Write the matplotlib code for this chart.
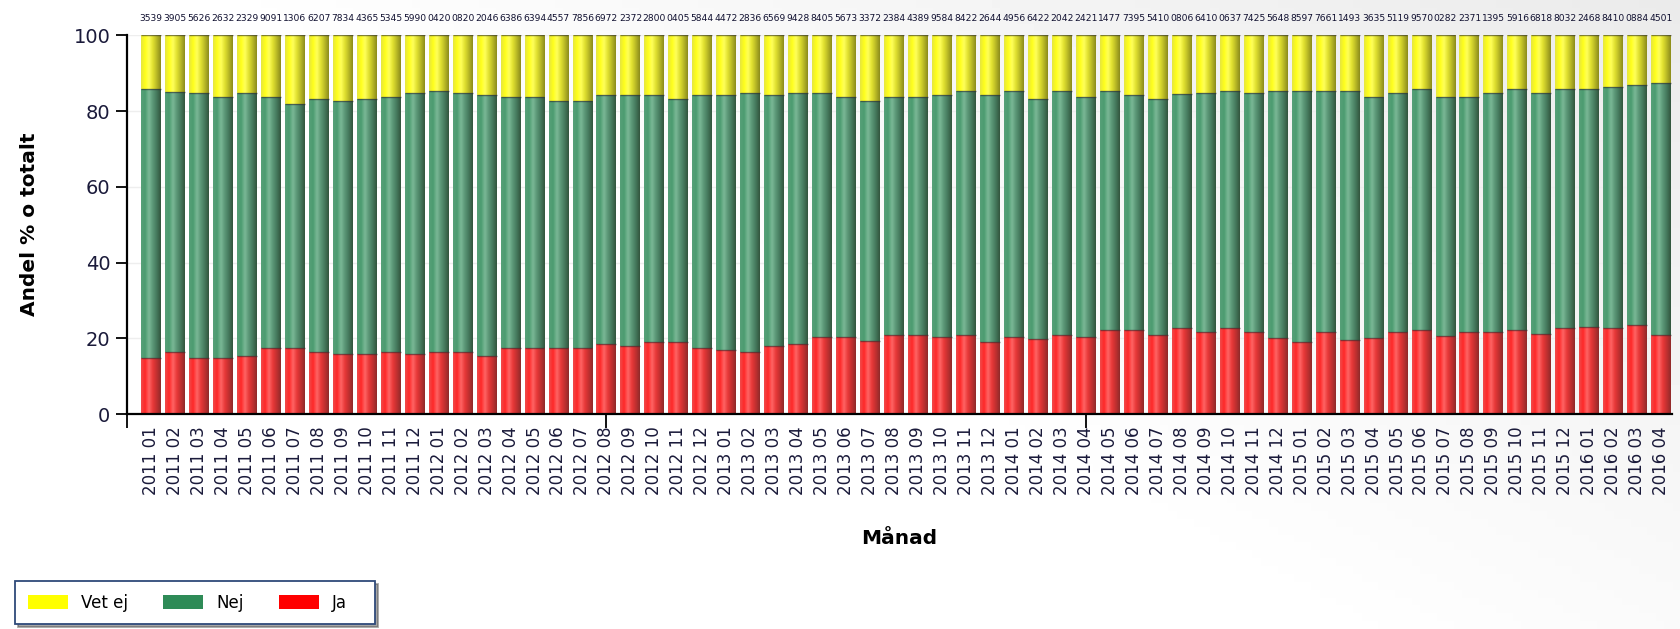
import numpy as np
import matplotlib
matplotlib.use("Agg")
import matplotlib.pyplot as plt
from matplotlib.colors import LinearSegmentedColormap
from matplotlib.patches import Patch

# ─── Data ────────────────────────────────────────────────────────
months = [f"{y} {m:02d}" for y in range(2011, 2017) for m in range(1, 13)][:64]

ja = [14.9, 16.4, 14.9, 14.9, 15.4, 17.4, 17.4, 16.4, 15.9, 15.9, 16.4, 15.9,
      16.4, 16.4, 15.4, 17.4, 17.4, 17.4, 17.4, 18.4, 17.9, 18.9, 18.9, 17.4,
      16.9, 16.4, 17.9, 18.4, 20.4, 20.4, 19.3, 20.9, 20.9, 20.4, 20.9, 18.9,
      20.4, 19.9, 20.9, 20.4, 22.3, 22.3, 20.8, 22.6, 21.6, 22.6, 21.6, 20.0,
      19.0, 21.6, 19.5, 20.0, 21.6, 22.1, 20.6, 21.6, 21.6, 22.1, 21.0, 22.6,
      23.1, 22.6, 23.6, 20.8]
nej = [70.9, 68.7, 69.8, 68.8, 69.3, 66.3, 64.4, 66.8, 66.8, 67.3, 67.3, 68.8,
       68.8, 68.3, 68.8, 66.3, 66.3, 65.3, 65.3, 65.8, 66.3, 65.3, 64.3, 66.8,
       67.3, 68.3, 66.3, 66.3, 64.3, 63.3, 63.4, 62.8, 62.8, 63.8, 64.3, 65.3,
       64.8, 63.3, 64.3, 63.3, 62.9, 61.9, 62.5, 61.8, 63.3, 62.8, 63.3, 65.4,
       66.4, 63.8, 65.9, 63.8, 63.3, 63.7, 63.2, 62.2, 63.3, 63.7, 63.9, 63.2,
       62.7, 63.9, 63.3, 66.6]
vet_ej = [100 - a - b for a, b in zip(ja, nej)]

# totals printed above the bars (they overlap in the original, partly guessed)
totals = ["3539", "3905", "5626", "2632", "2329", "9091", "1306", "6207",
          "7834", "4365", "5345", "5990", "0420", "0820", "2046", "6386",
          "6394", "4557", "7856", "6972", "2372", "2800", "0405", "5844",
          "4472", "2836", "6569", "9428", "8405", "5673", "3372", "2384",
          "4389", "9584", "8422", "2644", "4956", "6422", "2042", "2421",
          "1477", "7395", "5410", "0806", "6410", "0637", "7425", "5648",
          "8597", "7661", "1493", "3635", "5119", "9570", "0282", "2371",
          "1395", "5916", "6818", "8032", "2468", "8410", "0884", "4501"]

# ─── Figure ───────────────────────────────────────────────────────
W, H = 1681, 629
fig = plt.figure(figsize=(W / 100, H / 100), dpi=100)
fig.patch.set_facecolor("white")

# faint grey shading in the lower right of the background
bg = fig.add_axes([0, 0, 1, 1], zorder=-10)
gx, gy = np.meshgrid(np.linspace(0, 1, 200), np.linspace(0, 1, 80))
shade = np.clip((gx * 0.9 + (1 - gy) * 0.6 - 0.7), 0, 1) * 0.10
bg.imshow(1 - shade, cmap="gray", vmin=0, vmax=1, aspect="auto",
          extent=[0, 1, 0, 1], origin="upper")
bg.axis("off")

ax = fig.add_axes([127 / W, 1 - 414 / H, (1672 - 127) / W, (414 - 35.4) / H])
ax.set_facecolor("none")
x = np.arange(len(months))
width = 0.83

cm_ja = LinearSegmentedColormap.from_list(
    "ja", ["#f04a4a", "#ff2828", "#ff6464", "#e83838", "#c03030", "#902a2a"])
cm_nej = LinearSegmentedColormap.from_list(
    "nej", ["#56a078", "#4c9c70", "#7ab896", "#5a9676", "#44785c", "#33553d"])
cm_vet = LinearSegmentedColormap.from_list(
    "vet", ["#e6e640", "#ffff1a", "#ffff5a", "#e0e030", "#b8b826", "#8c8c1c"])

grad = np.linspace(0, 1, 64).reshape(1, -1)


def shade_bars(bars, cmap):
    for p in bars.patches:
        x0, y0 = p.get_x(), p.get_y()
        im = ax.imshow(grad, cmap=cmap, aspect="auto", interpolation="bilinear",
                       extent=[x0, x0 + p.get_width(), y0, y0 + p.get_height()],
                       zorder=2)
        im.set_clip_path(p)
        # thin dark edge at the top of each segment
        ax.plot([x0, x0 + p.get_width()], [y0 + p.get_height()] * 2,
                color="#303030", lw=1.0, alpha=0.6, zorder=3,
                solid_capstyle="butt")


b_ja = ax.bar(x, ja, width, color="#ff0000", zorder=1, linewidth=0)
b_nej = ax.bar(x, nej, width, bottom=ja, color="#2e8b57", zorder=1, linewidth=0)
b_vet = ax.bar(x, vet_ej, width, bottom=[a + b for a, b in zip(ja, nej)],
               color="#ffff00", zorder=1, linewidth=0)
shade_bars(b_ja, cm_ja)
shade_bars(b_nej, cm_nej)
shade_bars(b_vet, cm_vet)

for xi, t in zip(x, totals):
    ax.annotate(t, (xi, 100), xytext=(0, 12.5), textcoords="offset points",
                ha="center", va="center", fontsize=6.6, color="#101030",
                annotation_clip=False)

ax.set_xlim(-1, 63.45)
ax.set_ylim(0, 100)
ax.set_yticks([0, 20, 40, 60, 80, 100])
ax.tick_params(axis="y", labelsize=14, length=8, width=1.3, colors="black",
               labelcolor="#1a1a3a", pad=4)
ax.yaxis.grid(True, color="#eeeeee", lw=1, zorder=0)
ax.set_axisbelow(True)

ax.set_xticks(x, months, rotation=90, fontsize=12, color="#1a1a3a")
ax.tick_params(axis="x", which="major", length=0, pad=9)
ax.xaxis.remove_overlapping_locs = False
ax.set_xticks([-1, 19, 39], minor=True)
ax.tick_params(axis="x", which="minor", length=10, width=1.3, direction="out")

for side in ["top", "right"]:
    ax.spines[side].set_visible(False)
for side in ["left", "bottom"]:
    ax.spines[side].set_linewidth(1.6)

fig.text(30 / W, 1 - 224 / H, "Andel % o totalt", fontsize=14.5,
         fontweight="bold", rotation=90, ha="center", va="center")
fig.text((127 + 1672) / 2 / W, 1 - 539 / H, "Månad", fontsize=14.5,
         fontweight="bold", ha="center", va="center")

handles = [Patch(facecolor="#ffff00", edgecolor="none", label="Vet ej"),
           Patch(facecolor="#2e8b57", edgecolor="none", label="Nej"),
           Patch(facecolor="#ff0000", edgecolor="none", label="Ja   ")]
leg = fig.legend(handles=handles, ncol=3, loc="lower left",
                 bbox_to_anchor=(15 / W, 1 - 624 / H),
                 fontsize=12, frameon=True, fancybox=False,
                 shadow=True, handlelength=2.4, handleheight=0.9,
                 handletextpad=0.8, columnspacing=2.1,
                 borderaxespad=0, borderpad=0.75)
leg.get_frame().set_edgecolor("#2f4a7a")
leg.get_frame().set_linewidth(1.3)

fig.savefig("out.png", dpi=100)
